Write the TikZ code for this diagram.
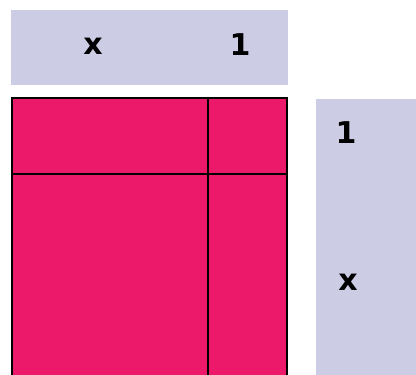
\documentclass[tikz,border=0pt]{standalone}
\usepackage{fontspec}
\setmainfont{DejaVu Sans}
\definecolor{band}{HTML}{CCCCE4}
\definecolor{mag}{HTML}{EC196A}
\begin{document}
\begin{tikzpicture}[x=1pt,y=-1pt,
  bandbox/.style={fill=band,draw=none},
  lbl/.style={font=\bfseries\fontsize{30}{33}\selectfont,inner sep=0pt}]
\useasboundingbox[fill=white] (0,0) rectangle (416,375);
\fill[band] (11,10) rectangle (288,85);
\fill[band] (316,99) rectangle (416,375);
\fill[mag] (12,98) rectangle (287,375);
\draw[line width=1.9pt] (12,375) -- (12,98) -- (287,98) -- (287,375);
\draw[line width=1.9pt] (208,98) -- (208,375);
\draw[line width=1.9pt] (12,174) -- (287,174);
\node[lbl] (tx) at (93,46) {x};
\node[lbl] (t1) at (240,45) {1};
\node[lbl] (r1) at (346,133) {1};
\node[lbl] (rx) at (348,282) {x};
\end{tikzpicture}
\end{document}
